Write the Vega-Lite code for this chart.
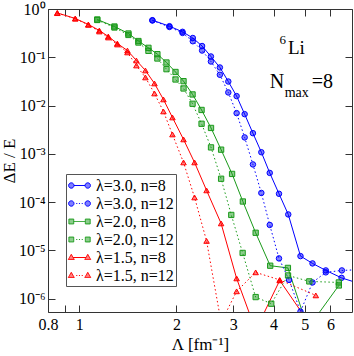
{
  "$schema": "https://vega.github.io/schema/vega-lite/v6.json",
  "width": 304,
  "height": 303,
  "autosize": {"type": "none"},
  "padding": {"left": 48, "top": 9, "right": 2, "bottom": 44},
  "background": "white",
  "config": {
    "font": "Liberation Serif",
    "view": {"stroke": "#333333", "strokeWidth": 1},
    "axis": {
      "domain": false, "grid": false, "tickColor": "#333333", "tickSize": -7, "tickWidth": 1,
      "labelFont": "Liberation Serif", "labelFontSize": 16, "labelColor": "black",
      "labelFlush": false, "labelOverlap": false,
      "titleFont": "Liberation Serif", "titleFontSize": 17, "titleFontWeight": "normal", "titleColor": "black"
    }
  },
  "datasets": {
    "d": [
      {"s": "λ=3.0, n=8", "L": 1.685, "dE": 0.586},
      {"s": "λ=3.0, n=8", "L": 1.903, "dE": 0.441},
      {"s": "λ=3.0, n=8", "L": 2.089, "dE": 0.337},
      {"s": "λ=3.0, n=8", "L": 2.248, "dE": 0.251},
      {"s": "λ=3.0, n=8", "L": 2.402, "dE": 0.171},
      {"s": "λ=3.0, n=8", "L": 2.558, "dE": 0.104},
      {"s": "λ=3.0, n=8", "L": 2.727, "dE": 0.0615},
      {"s": "λ=3.0, n=8", "L": 2.896, "dE": 0.0315},
      {"s": "λ=3.0, n=8", "L": 3.073, "dE": 0.0157},
      {"s": "λ=3.0, n=8", "L": 3.254, "dE": 0.00664},
      {"s": "λ=3.0, n=8", "L": 3.452, "dE": 0.00268},
      {"s": "λ=3.0, n=8", "L": 3.666, "dE": 0.00108},
      {"s": "λ=3.0, n=8", "L": 3.892, "dE": 0.000403},
      {"s": "λ=3.0, n=8", "L": 4.158, "dE": 0.000149},
      {"s": "λ=3.0, n=8", "L": 4.442, "dE": 0.0000556},
      {"s": "λ=3.0, n=8", "L": 4.847, "dE": 0.00000762},
      {"s": "λ=3.0, n=8", "L": 5.281, "dE": 0.00000538},
      {"s": "λ=3.0, n=8", "L": 5.807, "dE": 0.00000385},
      {"s": "λ=3.0, n=8", "L": 6.497, "dE": 0.0000027},
      {"s": "λ=3.0, n=8", "L": 7.51, "dE": 0.00000198},
      {"s": "λ=3.0, n=12", "L": 1.685, "dE": 0.578},
      {"s": "λ=3.0, n=12", "L": 1.903, "dE": 0.424},
      {"s": "λ=3.0, n=12", "L": 2.089, "dE": 0.319},
      {"s": "λ=3.0, n=12", "L": 2.248, "dE": 0.215},
      {"s": "λ=3.0, n=12", "L": 2.402, "dE": 0.138},
      {"s": "λ=3.0, n=12", "L": 2.558, "dE": 0.0818},
      {"s": "λ=3.0, n=12", "L": 2.727, "dE": 0.0434},
      {"s": "λ=3.0, n=12", "L": 2.896, "dE": 0.0187},
      {"s": "λ=3.0, n=12", "L": 3.073, "dE": 0.00697},
      {"s": "λ=3.0, n=12", "L": 3.254, "dE": 0.00219},
      {"s": "λ=3.0, n=12", "L": 3.452, "dE": 0.000604},
      {"s": "λ=3.0, n=12", "L": 3.666, "dE": 0.000155},
      {"s": "λ=3.0, n=12", "L": 3.892, "dE": 0.0000337},
      {"s": "λ=3.0, n=12", "L": 4.158, "dE": 0.00000683},
      {"s": "λ=3.0, n=12", "L": 4.467, "dE": 0.00000245},
      {"s": "λ=3.0, n=12", "L": 4.847, "dE": 0.00000054},
      {"s": "λ=3.0, n=12", "L": 5.281, "dE": 0.00000217},
      {"s": "λ=3.0, n=12", "L": 5.807, "dE": 0.00000351},
      {"s": "λ=3.0, n=12", "L": 6.512, "dE": 0.00000385},
      {"s": "λ=3.0, n=12", "L": 7.5, "dE": 0.000004},
      {"s": "λ=2.0, n=8", "L": 1.137, "dE": 0.606},
      {"s": "λ=2.0, n=8", "L": 1.285, "dE": 0.434},
      {"s": "λ=2.0, n=8", "L": 1.42, "dE": 0.311},
      {"s": "λ=2.0, n=8", "L": 1.525, "dE": 0.217},
      {"s": "λ=2.0, n=8", "L": 1.638, "dE": 0.157},
      {"s": "λ=2.0, n=8", "L": 1.746, "dE": 0.116},
      {"s": "λ=2.0, n=8", "L": 1.863, "dE": 0.078},
      {"s": "λ=2.0, n=8", "L": 1.987, "dE": 0.0496},
      {"s": "λ=2.0, n=8", "L": 2.104, "dE": 0.032},
      {"s": "λ=2.0, n=8", "L": 2.244, "dE": 0.017},
      {"s": "λ=2.0, n=8", "L": 2.393, "dE": 0.00811},
      {"s": "λ=2.0, n=8", "L": 2.56, "dE": 0.00344},
      {"s": "λ=2.0, n=8", "L": 2.751, "dE": 0.00122},
      {"s": "λ=2.0, n=8", "L": 2.975, "dE": 0.000384},
      {"s": "λ=2.0, n=8", "L": 3.213, "dE": 0.000103},
      {"s": "λ=2.0, n=8", "L": 3.52, "dE": 0.0000232},
      {"s": "λ=2.0, n=8", "L": 3.905, "dE": 0.00000482},
      {"s": "λ=2.0, n=8", "L": 4.431, "dE": 0.00000434},
      {"s": "λ=2.0, n=8", "L": 5.107, "dE": 0.000000243},
      {"s": "λ=2.0, n=8", "L": 6.373, "dE": 0.00000188},
      {"s": "λ=2.0, n=12", "L": 1.137, "dE": 0.592},
      {"s": "λ=2.0, n=12", "L": 1.285, "dE": 0.414},
      {"s": "λ=2.0, n=12", "L": 1.42, "dE": 0.29},
      {"s": "λ=2.0, n=12", "L": 1.525, "dE": 0.202},
      {"s": "λ=2.0, n=12", "L": 1.638, "dE": 0.136},
      {"s": "λ=2.0, n=12", "L": 1.746, "dE": 0.0944},
      {"s": "λ=2.0, n=12", "L": 1.863, "dE": 0.0567},
      {"s": "λ=2.0, n=12", "L": 1.987, "dE": 0.0347},
      {"s": "λ=2.0, n=12", "L": 2.104, "dE": 0.0226},
      {"s": "λ=2.0, n=12", "L": 2.244, "dE": 0.0109},
      {"s": "λ=2.0, n=12", "L": 2.393, "dE": 0.0042},
      {"s": "λ=2.0, n=12", "L": 2.56, "dE": 0.00136},
      {"s": "λ=2.0, n=12", "L": 2.751, "dE": 0.000305},
      {"s": "λ=2.0, n=12", "L": 2.958, "dE": 0.0000543},
      {"s": "λ=2.0, n=12", "L": 3.208, "dE": 0.00000887},
      {"s": "λ=2.0, n=12", "L": 3.52, "dE": 0.00000108},
      {"s": "λ=2.0, n=12", "L": 3.934, "dE": 0.000000787},
      {"s": "λ=2.0, n=12", "L": 4.435, "dE": 0.00000303},
      {"s": "λ=2.0, n=12", "L": 5.162, "dE": 0.00000228},
      {"s": "λ=2.0, n=12", "L": 6.373, "dE": 0.00000217},
      {"s": "λ=1.5, n=8", "L": 0.855, "dE": 0.83},
      {"s": "λ=1.5, n=8", "L": 0.972, "dE": 0.636},
      {"s": "λ=1.5, n=8", "L": 1.067, "dE": 0.478},
      {"s": "λ=1.5, n=8", "L": 1.154, "dE": 0.359},
      {"s": "λ=1.5, n=8", "L": 1.23, "dE": 0.27},
      {"s": "λ=1.5, n=8", "L": 1.312, "dE": 0.193},
      {"s": "λ=1.5, n=8", "L": 1.41, "dE": 0.138},
      {"s": "λ=1.5, n=8", "L": 1.503, "dE": 0.0859},
      {"s": "λ=1.5, n=8", "L": 1.603, "dE": 0.0533},
      {"s": "λ=1.5, n=8", "L": 1.71, "dE": 0.0287},
      {"s": "λ=1.5, n=8", "L": 1.823, "dE": 0.0134},
      {"s": "λ=1.5, n=8", "L": 1.944, "dE": 0.00567},
      {"s": "λ=1.5, n=8", "L": 2.104, "dE": 0.00199},
      {"s": "λ=1.5, n=8", "L": 2.276, "dE": 0.000664},
      {"s": "λ=1.5, n=8", "L": 2.48, "dE": 0.000175},
      {"s": "λ=1.5, n=8", "L": 2.751, "dE": 0.0000362},
      {"s": "λ=1.5, n=8", "L": 3.073, "dE": 0.00000263},
      {"s": "λ=1.5, n=8", "L": 3.52, "dE": 0.000000221},
      {"s": "λ=1.5, n=8", "L": 4.179, "dE": 0.00000239},
      {"s": "λ=1.5, n=8", "L": 5.034, "dE": 0.000000391},
      {"s": "λ=1.5, n=12", "L": 0.855, "dE": 0.82},
      {"s": "λ=1.5, n=12", "L": 0.972, "dE": 0.63},
      {"s": "λ=1.5, n=12", "L": 1.067, "dE": 0.47},
      {"s": "λ=1.5, n=12", "L": 1.154, "dE": 0.342},
      {"s": "λ=1.5, n=12", "L": 1.23, "dE": 0.257},
      {"s": "λ=1.5, n=12", "L": 1.312, "dE": 0.184},
      {"s": "λ=1.5, n=12", "L": 1.41, "dE": 0.126},
      {"s": "λ=1.5, n=12", "L": 1.503, "dE": 0.0676},
      {"s": "λ=1.5, n=12", "L": 1.603, "dE": 0.0382},
      {"s": "λ=1.5, n=12", "L": 1.71, "dE": 0.0178},
      {"s": "λ=1.5, n=12", "L": 1.823, "dE": 0.00755},
      {"s": "λ=1.5, n=12", "L": 1.944, "dE": 0.00252},
      {"s": "λ=1.5, n=12", "L": 2.104, "dE": 0.000664},
      {"s": "λ=1.5, n=12", "L": 2.276, "dE": 0.000125},
      {"s": "λ=1.5, n=12", "L": 2.48, "dE": 0.0000157},
      {"s": "λ=1.5, n=12", "L": 2.751, "dE": 0.000000323},
      {"s": "λ=1.5, n=12", "L": 3.073, "dE": 0.00000142},
      {"s": "λ=1.5, n=12", "L": 3.52, "dE": 0.00000351},
      {"s": "λ=1.5, n=12", "L": 4.179, "dE": 0.00000245},
      {"s": "λ=1.5, n=12", "L": 5.407, "dE": 0.00000117}
    ]
  },
  "layer": [
    {
      "data": {"name": "d"},
      "transform": [{"filter": "indexof(datum.s, 'n=12') < 0"}],
      "mark": {"type": "line", "strokeWidth": 1, "clip": true},
      "encoding": {
        "x": {"field": "L", "type": "quantitative",
          "scale": {"type": "log", "domain": [0.8, 7], "nice": false},
          "axis": {"orient": "bottom", "values": [0.8, 0.9, 1, 2, 3, 4, 5, 6],
            "labelExpr": "datum.value == 0.9 ? '' : format(datum.value, '~g')",
            "labelPadding": 11, "title": "Λ [fm⁻¹]", "titlePadding": 4}},
        "y": {"field": "dE", "type": "quantitative",
          "scale": {"type": "log", "domain": [5.3e-7, 1], "nice": false},
          "axis": {"orient": "left", "values": [1, 0.1, 0.01, 0.001, 0.0001, 0.00001, 0.000001],
            "labelExpr": "'10' + ['⁰','⁻¹','⁻²','⁻³','⁻⁴','⁻⁵','⁻⁶'][round(-log(datum.value)/LN10)]",
            "labelPadding": 10, "title": "ΔE / E", "titlePadding": 0}},
        "color": {"field": "s", "type": "nominal",
          "scale": {"domain": ["λ=3.0, n=8", "λ=3.0, n=12", "λ=2.0, n=8", "λ=2.0, n=12", "λ=1.5, n=8", "λ=1.5, n=12"],
            "range": ["#0000ff", "#0000ff", "#1a9a1a", "#1a9a1a", "#ff0000", "#ff0000"]},
          "legend": {
            "title": null, "orient": "none", "legendX": 18, "legendY": 165,
            "fillColor": "white", "strokeColor": "#555555", "padding": 2,
            "labelFont": "Liberation Serif", "labelFontSize": 16, "labelColor": "black",
            "labelOffset": 9, "labelLimit": 200, "symbolSize": 324, "rowPadding": 0,
            "encode": {"symbols": {"update": {
              "shape": {"signal": "datum.value == 'λ=3.0, n=8' ? 'M-0.99,0A0.3,0.3 0 1,0 -0.39,0A0.3,0.3 0 1,0 -0.99,0ZM0.84,0A0.3,0.3 0 1,0 1.44,0A0.3,0.3 0 1,0 0.84,0ZM-0.39,0L0.84,0' : datum.value == 'λ=3.0, n=12' ? 'M-0.99,0A0.3,0.3 0 1,0 -0.39,0A0.3,0.3 0 1,0 -0.99,0ZM0.84,0A0.3,0.3 0 1,0 1.44,0A0.3,0.3 0 1,0 0.84,0ZM-0.14,0L-0.02,0M0.16,0L0.28,0M0.47,0L0.59,0' : datum.value == 'λ=2.0, n=8' ? 'M-0.96,-0.27h0.54v0.54h-0.54ZM0.87,-0.27h0.54v0.54h-0.54ZM-0.42,0L0.87,0' : datum.value == 'λ=2.0, n=12' ? 'M-0.96,-0.27h0.54v0.54h-0.54ZM0.87,-0.27h0.54v0.54h-0.54ZM-0.14,0L-0.02,0M0.16,0L0.28,0M0.47,0L0.59,0' : datum.value == 'λ=1.5, n=8' ? 'M-0.69,-0.35L-0.36,0.22L-1.02,0.22ZM1.14,-0.35L1.47,0.22L0.81,0.22ZM-0.5,0L0.95,0' : 'M-0.69,-0.35L-0.36,0.22L-1.02,0.22ZM1.14,-0.35L1.47,0.22L0.81,0.22ZM-0.14,0L-0.02,0M0.16,0L0.28,0M0.47,0L0.59,0'"},
              "fill": {"signal": "scale('color', datum.value)"},
              "fillOpacity": {"value": 0.5},
              "stroke": {"signal": "scale('color', datum.value)"},
              "strokeWidth": {"value": 1},
              "strokeDash": {"value": [1, 0]},
              "opacity": {"value": 1}
            }}}
          }}
      }
    },
    {
      "data": {"name": "d"},
      "transform": [{"filter": "indexof(datum.s, 'n=12') >= 0"}],
      "mark": {"type": "line", "strokeWidth": 1, "strokeDash": [1.5, 2.5], "clip": true},
      "encoding": {
        "x": {"field": "L", "type": "quantitative", "scale": {"type": "log", "domain": [0.8, 7], "nice": false}, "axis": null},
        "y": {"field": "dE", "type": "quantitative", "scale": {"type": "log", "domain": [5.3e-7, 1], "nice": false}, "axis": null},
        "color": {"field": "s", "type": "nominal", "legend": null}
      }
    },
    {
      "data": {"name": "d"},
      "transform": [{"filter": "indexof(datum.s, 'λ=3.0') >= 0"}],
      "mark": {"type": "point", "shape": "circle", "filled": true, "fill": "#0000ff", "fillOpacity": 0.5, "stroke": "#0000ff", "strokeOpacity": 1, "strokeWidth": 1, "size": 30, "clip": true, "opacity": 1},
      "encoding": {
        "x": {"field": "L", "type": "quantitative",
          "scale": {"type": "log", "domain": [0.8, 7], "nice": false},
          "axis": {"orient": "top", "values": [0.8, 0.9, 1, 2, 3, 4, 5, 6], "labels": false, "title": null}},
        "y": {"field": "dE", "type": "quantitative",
          "scale": {"type": "log", "domain": [5.3e-7, 1], "nice": false},
          "axis": {"orient": "right", "values": [1, 0.1, 0.01, 0.001, 0.0001, 0.00001, 0.000001], "labels": false, "title": null}}
      }
    },
    {
      "data": {"name": "d"},
      "transform": [{"filter": "indexof(datum.s, 'λ=2.0') >= 0"}],
      "mark": {"type": "point", "shape": "square", "filled": true, "fill": "#1a9a1a", "fillOpacity": 0.5, "stroke": "#1a9a1a", "strokeOpacity": 1, "strokeWidth": 1, "size": 28, "clip": true, "opacity": 1},
      "encoding": {
        "x": {"field": "L", "type": "quantitative", "scale": {"type": "log", "domain": [0.8, 7], "nice": false}, "axis": null},
        "y": {"field": "dE", "type": "quantitative", "scale": {"type": "log", "domain": [5.3e-7, 1], "nice": false}, "axis": null}
      }
    },
    {
      "data": {"name": "d"},
      "transform": [{"filter": "indexof(datum.s, 'λ=1.5') >= 0"}],
      "mark": {"type": "point", "shape": "triangle-up", "filled": true, "fill": "#ff0000", "fillOpacity": 0.5, "stroke": "#ff0000", "strokeOpacity": 1, "strokeWidth": 1, "size": 30, "clip": true, "opacity": 1},
      "encoding": {
        "x": {"field": "L", "type": "quantitative", "scale": {"type": "log", "domain": [0.8, 7], "nice": false}, "axis": null},
        "y": {"field": "dE", "type": "quantitative", "scale": {"type": "log", "domain": [5.3e-7, 1], "nice": false}, "axis": null}
      }
    },
    {
      "data": {"values": [{"t": "6", "L": 4.17, "dE": 0.184}]},
      "mark": {"type": "text", "font": "Liberation Serif", "fontSize": 13, "align": "left", "baseline": "alphabetic", "color": "black"},
      "encoding": {
        "x": {"field": "L", "type": "quantitative", "scale": {"type": "log", "domain": [0.8, 7], "nice": false}, "axis": null},
        "y": {"field": "dE", "type": "quantitative", "scale": {"type": "log", "domain": [5.3e-7, 1], "nice": false}, "axis": null},
        "text": {"field": "t"}
      }
    },
    {
      "data": {"values": [{"t": "Li", "L": 4.43, "dE": 0.118}]},
      "mark": {"type": "text", "font": "Liberation Serif", "fontSize": 19, "align": "left", "baseline": "alphabetic", "color": "black"},
      "encoding": {
        "x": {"field": "L", "type": "quantitative", "scale": {"type": "log", "domain": [0.8, 7], "nice": false}, "axis": null},
        "y": {"field": "dE", "type": "quantitative", "scale": {"type": "log", "domain": [5.3e-7, 1], "nice": false}, "axis": null},
        "text": {"field": "t"}
      }
    },
    {
      "data": {"values": [{"t": "N", "L": 3.89, "dE": 0.0231}]},
      "mark": {"type": "text", "font": "Liberation Serif", "fontSize": 20, "align": "left", "baseline": "alphabetic", "color": "black"},
      "encoding": {
        "x": {"field": "L", "type": "quantitative", "scale": {"type": "log", "domain": [0.8, 7], "nice": false}, "axis": null},
        "y": {"field": "dE", "type": "quantitative", "scale": {"type": "log", "domain": [5.3e-7, 1], "nice": false}, "axis": null},
        "text": {"field": "t"}
      }
    },
    {
      "data": {"values": [{"t": "max", "L": 4.33, "dE": 0.0152}]},
      "mark": {"type": "text", "font": "Liberation Serif", "fontSize": 14, "align": "left", "baseline": "alphabetic", "color": "black"},
      "encoding": {
        "x": {"field": "L", "type": "quantitative", "scale": {"type": "log", "domain": [0.8, 7], "nice": false}, "axis": null},
        "y": {"field": "dE", "type": "quantitative", "scale": {"type": "log", "domain": [5.3e-7, 1], "nice": false}, "axis": null},
        "text": {"field": "t"}
      }
    },
    {
      "data": {"values": [{"t": "=8", "L": 5.25, "dE": 0.0231}]},
      "mark": {"type": "text", "font": "Liberation Serif", "fontSize": 20, "align": "left", "baseline": "alphabetic", "color": "black"},
      "encoding": {
        "x": {"field": "L", "type": "quantitative", "scale": {"type": "log", "domain": [0.8, 7], "nice": false}, "axis": null},
        "y": {"field": "dE", "type": "quantitative", "scale": {"type": "log", "domain": [5.3e-7, 1], "nice": false}, "axis": null},
        "text": {"field": "t"}
      }
    }
  ],
  "resolve": {"axis": {"x": "independent", "y": "independent"}}
}
